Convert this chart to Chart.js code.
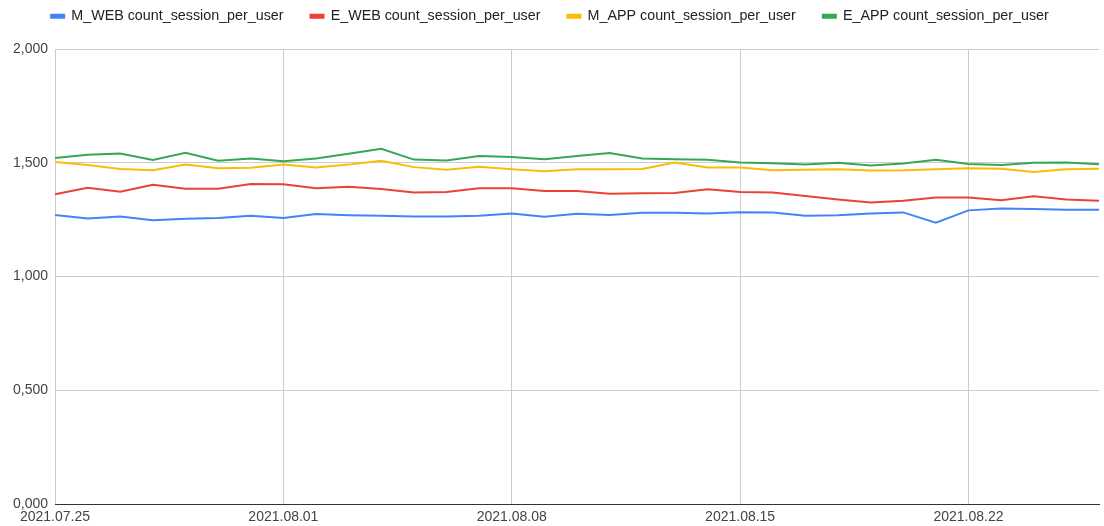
<!DOCTYPE html>
<html>
<head>
<meta charset="utf-8">
<script src="https://cdn.jsdelivr.net/npm/chart.js@4"></script>
<style>
  html, body { margin: 0; padding: 0; background: #fff; }
  #wrap { width: 1104px; height: 526px; }
</style>
</head>
<body>
<div id="wrap"><canvas id="sessionChart"></canvas></div>
<script>
// dates, one per day
const days = [
  '2021.07.25', '2021.07.26', '2021.07.27', '2021.07.28', '2021.07.29', '2021.07.30', '2021.07.31',
  '2021.08.01', '2021.08.02', '2021.08.03', '2021.08.04', '2021.08.05', '2021.08.06', '2021.08.07',
  '2021.08.08', '2021.08.09', '2021.08.10', '2021.08.11', '2021.08.12', '2021.08.13', '2021.08.14',
  '2021.08.15', '2021.08.16', '2021.08.17', '2021.08.18', '2021.08.19', '2021.08.20', '2021.08.21',
  '2021.08.22', '2021.08.23', '2021.08.24', '2021.08.25', '2021.08.26'
];

const mWeb = [1271, 1255, 1264, 1248, 1254, 1258, 1267, 1258, 1275, 1270, 1267, 1264, 1264, 1267, 1277, 1263, 1276,
  1271, 1280, 1280, 1277, 1283, 1282, 1267, 1270, 1277, 1282, 1237, 1291, 1299, 1297, 1294, 1294];
const eWeb = [1362, 1390, 1373, 1403, 1386, 1386, 1407, 1406, 1388, 1395, 1385, 1369, 1372, 1388, 1388, 1376, 1376,
  1364, 1366, 1367, 1384, 1372, 1369, 1354, 1339, 1326, 1333, 1348, 1348, 1335, 1353, 1339, 1333];
const mApp = [1503, 1490, 1473, 1467, 1492, 1476, 1478, 1492, 1479, 1492, 1509, 1481, 1469, 1483, 1472, 1463, 1472,
  1472, 1473, 1501, 1479, 1479, 1467, 1470, 1472, 1466, 1467, 1472, 1476, 1474, 1460, 1472, 1474];
const eApp = [1521, 1535, 1541, 1512, 1544, 1509, 1519, 1507, 1519, 1540, 1562, 1514, 1510, 1530, 1525, 1516, 1530,
  1543, 1519, 1516, 1513, 1501, 1498, 1492, 1500, 1488, 1497, 1513, 1495, 1490, 1500, 1501, 1494];

const seriesNames = ['M_WEB count_session_per_user', 'E_WEB count_session_per_user',
  'M_APP count_session_per_user', 'E_APP count_session_per_user'];
const seriesColors = ['#4285f4', '#ea4335', '#fbbc04', '#34a853'];
const yTicks = [0, 500, 1000, 1500, 2000];

Chart.defaults.font.family = 'Arial, "Liberation Sans", sans-serif';
Chart.defaults.font.size = 14;

// google-sheets style number format: 1500 -> "1,500", 500 -> "0,500"
function fmt(v) {
  return Math.floor(v / 1000) + ',' + String(v % 1000).padStart(3, '0');
}

// keep the legend row short and high, like the sheets chart
const legendSpot = {
  id: 'legendSpot',
  afterInit(chart) {
    const lg = chart.legend;
    const fit = lg.fit;
    lg.fit = function () { fit.call(this); this.height = 49; };
  },
  afterLayout(chart) {
    const lg = chart.legend;
    lg.top -= 18;
    lg.bottom -= 18;
  }
};

const ctx = document.getElementById('sessionChart');
new Chart(ctx, {
  type: 'line',
  data: {
    labels: days,
    datasets: [mWeb, eWeb, mApp, eApp].map((d, i) => ({
      label: seriesNames[i],
      data: d,
      borderColor: seriesColors[i],
      backgroundColor: seriesColors[i],
      borderWidth: 2,
      pointRadius: 0,
      tension: 0
    }))
  },
  options: {
    responsive: true,
    maintainAspectRatio: false,
    animation: false,
    layout: { padding: { left: 0, right: 4, top: 0, bottom: 0 } },
    plugins: {
      legend: {
        position: 'top',
        align: 'center',
        labels: { boxWidth: 13, boxHeight: 3, padding: 27, color: '#222', font: { size: 14.3 } }
      },
      tooltip: { enabled: false }
    },
    scales: {
      x: {
        offset: false,
        afterFit: s => { s.height -= 5; },
        grid: {
          drawTicks: false,
          color: c => (c.index % 7 === 0 ? '#cccccc' : 'rgba(0,0,0,0)')
        },
        border: { color: '#333', width: 1 },
        ticks: {
          autoSkip: false,
          maxRotation: 0,
          padding: 5,
          color: '#444',
          callback: function (val, i) { return i % 7 === 0 ? this.getLabelForValue(val) : ''; }
        }
      },
      y: {
        min: 0,
        max: 2000,
        afterFit: s => { s.width = 55; },
        afterBuildTicks: s => { s.ticks = yTicks.map(v => ({ value: v })); },
        grid: {
          drawTicks: false,
          color: c => (c.tick && c.tick.value === 0 ? '#333' : '#cccccc')
        },
        border: { display: false },
        ticks: { padding: 7, color: '#444', callback: v => fmt(v) }
      }
    }
  },
  plugins: [legendSpot]
});
</script>
</body>
</html>
